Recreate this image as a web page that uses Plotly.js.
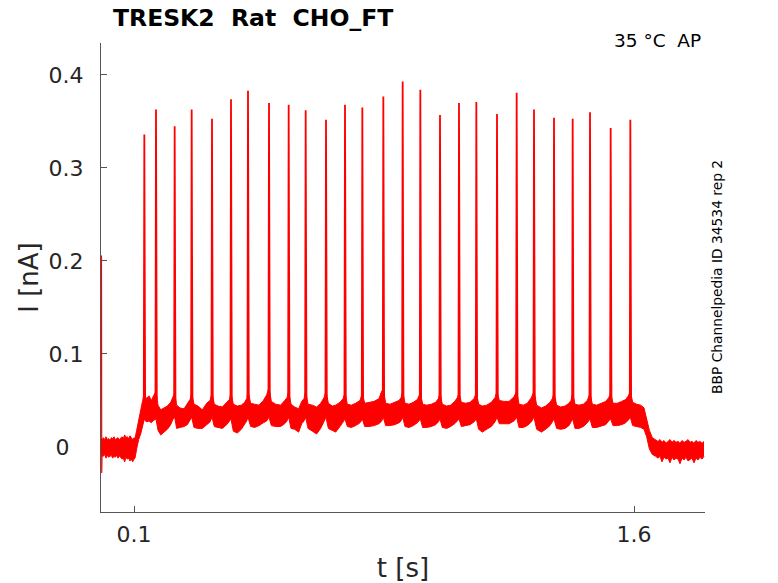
<!DOCTYPE html>
<html>
<head>
<meta charset="utf-8">
<script src="https://cdn.plot.ly/plotly-3.0.1.min.js"></script>
<style>html,body{margin:0;padding:0;background:#fff;}#plot{width:778px;height:583px;}</style>
</head>
<body>
<div id="plot"></div>
<script>
// ---- data ----
// spike (action potential) times [s] and peak currents [nA]
const spikeT = [0.131,0.166,0.222,0.273,0.334,0.391,0.442,0.505,0.564,0.615,0.676,0.733,0.785,0.848,0.906,0.959,1.018,1.075,1.127,1.189,1.248,1.300,1.360,1.416,1.468,1.530,1.589];
const spikePeak = [0.336,0.363,0.345,0.363,0.353,0.374,0.383,0.370,0.368,0.362,0.352,0.368,0.365,0.377,0.393,0.384,0.357,0.370,0.371,0.358,0.381,0.363,0.354,0.353,0.360,0.343,0.352];
const spikeBase = [0.052,0.055,0.052,0.052,0.052,0.052,0.054,0.056,0.054,0.054,0.054,0.052,0.052,0.056,0.054,0.052,0.052,0.052,0.052,0.054,0.054,0.054,0.052,0.052,0.052,0.052,0.054];

// capacitive artefact at t = 0
const artT = [0.0024,0.0028,0.0032,0.0038,0.0044];
const artI = [0.206,0.060,-0.028,-0.012,-0.004];

// noisy current band: time, upper edge, lower edge
const envT = [0.001,0.004,0.008,0.012,0.016,0.020,0.024,0.028,0.032,0.036,0.040,0.044,0.048,0.052,0.056,0.060,0.064,0.068,0.072,0.076,0.080,0.084,0.088,0.092,0.096,0.100,0.103,
 0.108,0.114,0.120,0.126,
 0.131,0.137,0.145,0.152,0.160,
 0.166,0.172,0.180,0.190,0.200,0.210,0.217,
 0.222,0.228,0.238,0.250,0.260,0.268,
 0.273,0.280,0.292,0.305,0.318,0.328,
 0.334,0.341,0.352,0.365,0.378,0.386,
 0.391,0.398,0.410,0.422,0.432,0.438,
 0.442,0.450,0.462,0.475,0.488,0.498,
 0.505,0.512,0.525,0.540,0.552,0.559,
 0.564,0.571,0.582,0.594,0.603,0.610,
 0.615,0.622,0.635,0.648,0.660,0.670,
 0.676,0.683,0.695,0.705,0.718,0.727,
 0.733,0.740,0.752,0.765,0.778,
 0.785,0.792,0.805,0.820,0.835,0.843,
 0.848,0.855,0.868,0.882,0.895,0.901,
 0.906,0.913,0.925,0.938,0.950,
 0.959,0.966,0.978,0.992,1.005,1.013,
 1.018,1.025,1.038,1.050,1.062,1.070,
 1.075,1.082,1.095,1.108,1.120,
 1.127,1.134,1.145,1.158,1.172,1.183,
 1.189,1.196,1.210,1.225,1.240,
 1.248,1.255,1.268,1.280,1.292,
 1.300,1.308,1.322,1.335,1.348,1.355,
 1.360,1.368,1.380,1.393,1.405,1.411,
 1.416,1.423,1.435,1.448,1.460,
 1.468,1.475,1.488,1.502,1.515,1.524,
 1.530,1.537,1.550,1.563,1.575,1.583,
 1.589,1.596,1.608,1.620,1.630,
 1.638,1.646,1.655,1.665,
 1.672,1.678,1.684,1.690,1.696,1.702,1.708,1.714,1.720,1.726,1.732,1.738,1.744,1.750,1.756,1.762,1.768,1.774,1.780,1.786,1.792,1.798,1.804,1.810];
const envHi = [0.009,0.007,0.010,0.008,0.011,0.008,0.009,0.007,0.010,0.009,0.011,0.008,0.009,0.010,0.008,0.010,0.011,0.009,0.013,0.010,0.011,0.009,0.012,0.010,0.008,0.010,0.009,
 0.018,0.030,0.038,0.050,
 0.058,0.052,0.055,0.050,0.056,
 0.060,0.045,0.040,0.042,0.044,0.048,0.053,
 0.058,0.045,0.042,0.041,0.046,0.051,
 0.058,0.046,0.044,0.040,0.047,0.050,
 0.058,0.046,0.044,0.043,0.048,0.051,
 0.058,0.046,0.044,0.045,0.048,0.052,
 0.060,0.047,0.046,0.045,0.050,0.056,
 0.064,0.049,0.046,0.045,0.050,0.053,
 0.060,0.046,0.043,0.041,0.049,0.052,
 0.060,0.046,0.045,0.043,0.047,0.053,
 0.060,0.047,0.044,0.045,0.048,0.052,
 0.058,0.046,0.045,0.047,0.050,
 0.058,0.047,0.048,0.049,0.052,0.060,
 0.062,0.047,0.046,0.048,0.050,0.053,
 0.060,0.047,0.046,0.048,0.051,
 0.058,0.046,0.045,0.046,0.048,0.052,
 0.058,0.046,0.044,0.045,0.049,0.053,
 0.058,0.048,0.047,0.048,0.052,
 0.058,0.046,0.044,0.045,0.048,0.053,
 0.060,0.050,0.049,0.049,0.054,
 0.060,0.046,0.045,0.047,0.053,
 0.060,0.045,0.042,0.044,0.048,0.052,
 0.058,0.045,0.043,0.044,0.047,0.050,
 0.058,0.046,0.045,0.046,0.050,
 0.058,0.046,0.045,0.047,0.049,0.053,
 0.058,0.047,0.047,0.049,0.051,0.055,
 0.060,0.048,0.046,0.045,0.042,
 0.030,0.018,0.010,0.008,
 0.006,0.008,0.005,0.007,0.004,0.006,0.008,0.005,0.007,0.005,0.006,0.004,0.007,0.005,0.006,0.008,0.005,0.006,0.004,0.007,0.005,0.006,0.004,0.006];
const envLo = [-0.011,-0.009,-0.010,-0.008,-0.012,-0.009,-0.011,-0.010,-0.009,-0.012,-0.010,-0.011,-0.009,-0.012,-0.010,-0.011,-0.013,-0.012,-0.016,-0.011,-0.013,-0.012,-0.015,-0.013,-0.016,-0.013,-0.012,
 -0.002,0.008,0.014,0.024,
 0.030,0.027,0.028,0.026,0.029,
 0.030,0.018,0.013,0.016,0.019,0.024,0.030,
 0.032,0.020,0.021,0.022,0.024,0.030,
 0.032,0.021,0.020,0.020,0.024,0.027,
 0.032,0.022,0.021,0.020,0.024,0.028,
 0.030,0.017,0.015,0.019,0.024,0.028,
 0.032,0.022,0.021,0.023,0.026,0.028,
 0.032,0.023,0.022,0.022,0.025,0.028,
 0.032,0.020,0.019,0.016,0.025,0.028,
 0.032,0.020,0.017,0.014,0.020,0.027,
 0.032,0.020,0.018,0.016,0.022,0.027,
 0.030,0.022,0.021,0.023,0.026,
 0.030,0.022,0.022,0.023,0.025,0.028,
 0.032,0.023,0.023,0.024,0.026,0.028,
 0.032,0.022,0.021,0.023,0.026,
 0.030,0.021,0.021,0.022,0.024,0.027,
 0.030,0.021,0.020,0.022,0.025,0.028,
 0.030,0.022,0.023,0.024,0.027,
 0.030,0.019,0.016,0.019,0.022,0.027,
 0.032,0.025,0.025,0.025,0.028,
 0.032,0.021,0.021,0.023,0.027,
 0.032,0.019,0.016,0.019,0.023,0.027,
 0.030,0.020,0.019,0.020,0.023,0.027,
 0.030,0.020,0.020,0.022,0.026,
 0.030,0.021,0.021,0.023,0.024,0.028,
 0.030,0.023,0.023,0.024,0.026,0.029,
 0.032,0.023,0.022,0.021,0.019,
 0.011,-0.002,-0.008,-0.010,
 -0.012,-0.010,-0.016,-0.011,-0.013,-0.012,-0.017,-0.011,-0.014,-0.012,-0.013,-0.018,-0.012,-0.014,-0.011,-0.015,-0.013,-0.012,-0.017,-0.012,-0.014,-0.011,-0.013,-0.010];

const xTickVals = [0.1, 1.6];
const xTickText = ['0.1', '1.6'];
const yTickVals = [0, 0.1, 0.2, 0.3, 0.4];
const yTickText = ['0\u00a0\u00a0', '0.1', '0.2', '0.3', '0.4'];

// ---- build traces ----
const RED = '#ff0000';
const sx = [], sy = [];
spikeT.forEach((t, i) => {
  sx.push(t - 0.0016, t, t + 0.0024, null);
  sy.push(spikeBase[i], spikePeak[i], spikeBase[i] - 0.004, null);
});

const traces = [
  {x: envT, y: envLo, type: 'scatter', mode: 'lines', line: {color: RED, width: 1}, hoverinfo: 'skip'},
  {x: envT, y: envHi, type: 'scatter', mode: 'lines', fill: 'tonexty', fillcolor: RED, line: {color: RED, width: 1}, hoverinfo: 'skip'},
  {x: sx, y: sy, type: 'scatter', mode: 'lines', line: {color: RED, width: 1.8}, connectgaps: false, hoverinfo: 'skip'},
  {x: artT, y: artI, type: 'scatter', mode: 'lines', line: {color: RED, width: 1.2}, hoverinfo: 'skip'}
];

const FONT = 'DejaVu Sans, Liberation Sans, sans-serif';
const layout = {
  width: 778, height: 583,
  margin: {l: 101, r: 73, t: 43, b: 71, pad: 0},
  paper_bgcolor: '#fff', plot_bgcolor: '#fff',
  showlegend: false,
  font: {family: FONT, color: '#262626'},
  title: {text: 'TRESK2  Rat  CHO_FT', font: {family: FONT, size: 23.5, color: '#000', weight: 'bold'},
          xref: 'container', x: 113/778, xanchor: 'left', yref: 'container', y: 1 - 18/583, yanchor: 'middle'},
  xaxis: {
    range: [0.001, 1.813], showgrid: false, zeroline: false,
    showline: true, linecolor: '#555', linewidth: 1, layer: 'below traces',
    ticks: 'inside', ticklen: 6, tickcolor: '#555', tickwidth: 1,
    tickmode: 'array', tickvals: xTickVals, ticktext: xTickText,
    tickfont: {family: FONT, size: 22, color: '#262626'}, ticklabelstandoff: 3,
    title: {text: 't [s]', font: {family: FONT, size: 26, color: '#262626'}, standoff: 12}
  },
  yaxis: {
    range: [-0.0699, 0.4344], showgrid: false, zeroline: false,
    showline: true, linecolor: '#555', linewidth: 1, layer: 'below traces',
    ticks: 'inside', ticklen: 6, tickcolor: '#555', tickwidth: 1,
    tickmode: 'array', tickvals: yTickVals, ticktext: yTickText,
    tickfont: {family: FONT, size: 22, color: '#262626'}, ticklabelstandoff: 12,
    title: {text: 'I [nA]', font: {family: FONT, size: 26, color: '#262626'}, standoff: 2}
  },
  annotations: [
    {text: '35 °C  AP', xref: 'paper', yref: 'paper', x: (703-101)/604, y: (512-41)/469,
     xanchor: 'right', yanchor: 'middle', showarrow: false, font: {family: FONT, size: 18.5, color: '#000'}},
    {text: 'BBP Channelpedia ID 34534 rep 2', xref: 'paper', yref: 'paper', x: (717-101)/604, y: (512-277)/469,
     xanchor: 'center', yanchor: 'middle', textangle: -90, showarrow: false, font: {family: FONT, size: 13.8, color: '#000'}}
  ]
};

Plotly.newPlot('plot', traces, layout, {staticPlot: true, displayModeBar: false});
</script>
</body>
</html>
